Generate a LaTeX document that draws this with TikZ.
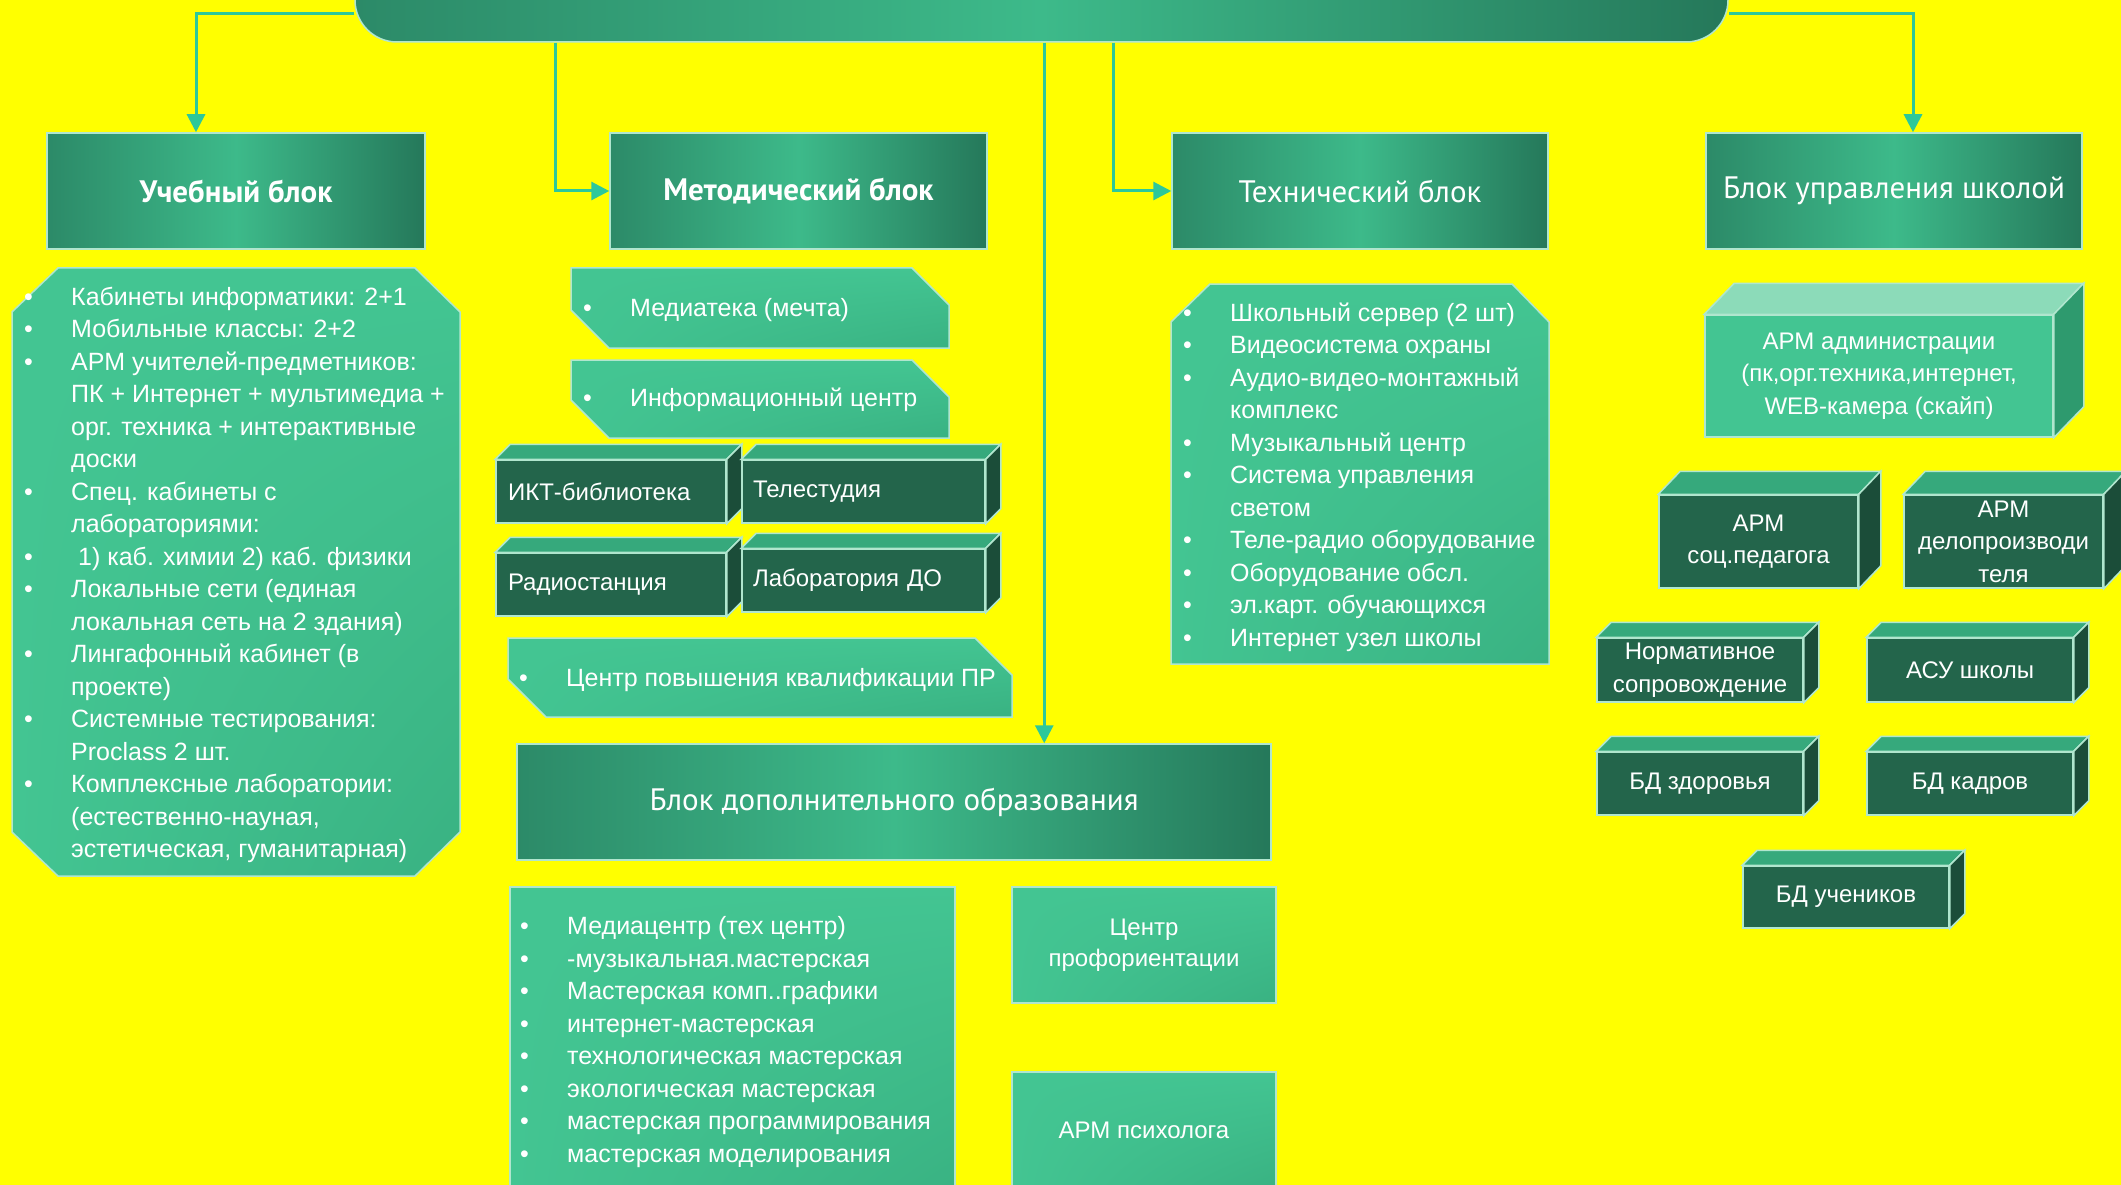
\documentclass[tikz,border=0pt]{standalone}
\usepackage{fontspec}
\setmainfont{PT Sans}
\newfontfamily\lstfont{Liberation Sans}
\usepackage{tikz}
\usetikzlibrary{arrows.meta,shadings}

\definecolor{bg}{RGB}{255,255,0}
\definecolor{lnk}{RGB}{45,200,154}
\definecolor{hdark}{RGB}{44,138,104}
\definecolor{hlight}{RGB}{61,186,138}
\definecolor{hend}{RGB}{37,120,90}
\definecolor{lbox}{RGB}{67,197,146}
\definecolor{lboxd}{RGB}{57,178,130}
\definecolor{rim}{RGB}{176,230,206}
\definecolor{dfront}{RGB}{35,101,75}
\definecolor{dtop}{RGB}{54,169,124}
\definecolor{dside}{RGB}{27,77,57}
\definecolor{ltop}{RGB}{140,219,185}
\definecolor{lside}{RGB}{46,154,110}

\newcommand{\bul}{\makebox[47pt][l]{\textbullet}}
\newcommand{\gap}{\hspace*{47pt}}

\begin{document}
\begin{tikzpicture}[x=1pt,y=-1pt,
    hdr/.style={draw=rim,line width=1.5pt,left color=hdark,right color=hend,middle color=hlight,
      minimum width=376pt,minimum height=116pt,text=white,font=\fontsize{31}{36}\selectfont},
    panel/.style={draw=rim,line width=1.5pt,upper left=lbox,upper right=lbox,lower left=lbox,lower right=lboxd},
    lst/.style={text=white,align=left,inner sep=0pt,anchor=west,font=\lstfont\fontsize{25}{32.5}\selectfont},
    dcube/.style={draw=rim,line width=1.5pt,fill=dfront,text=white,inner sep=0pt,font=\lstfont\fontsize{24}{32.5}\selectfont},
    dtopf/.style={draw=rim,line width=1.5pt,fill=dtop},
    dsidef/.style={draw=rim,line width=1.5pt,fill=dside},
    link/.style={draw=lnk,line width=3pt,-{Triangle[length=18pt,width=18pt]}}]
    \useasboundingbox (0,0) rectangle (2121,1185);
    \fill[bg] (0,0) rectangle (2121,1185);

    % top banner and the four blocks
    \node[hdr,minimum width=1373pt,minimum height=84pt,rounded corners=42pt] (top) at (1041.5,0) {};
    \node[hdr,minimum width=378pt,font=\fontsize{31}{36}\selectfont\bfseries] (ucheb) at (236,191) {Учебный блок};
    \node[hdr,minimum width=377pt,font=\fontsize{31}{36}\selectfont\bfseries] (metod) at (798.5,191) {Методический блок};
    \node[hdr] (tech) at (1360,191) {Технический блок};
    \node[hdr] (upr) at (1894,191) {Блок управления школой};
    \node[hdr,minimum width=754pt] (dop) at (894,802) {Блок дополнительного образования};

    \coordinate (c3) at ([xshift=690pt]top.south west);
    \draw[link] ([yshift=-14pt]top.west) -| ([xshift=-40pt]ucheb.north);
    \draw[link] ([xshift=201pt]top.south west) |- (metod.west);
    \draw[link] (c3) -- (c3 |- dop.north);
    \draw[link] ([xshift=759pt]top.south west) |- (tech.west);
    \draw[link] ([yshift=-14pt]top.east) -| ([xshift=19pt]upr.north);

    % Учебный блок
    \filldraw[panel] (12,312) -- (58,268) -- (415,268) -- (460,312) -- (460,832) -- (415,876) -- (58,876) -- (12,832) -- cycle;
    \node[lst] (l1) at (24,575) {\bul Кабинеты информатики: 2+1\\
      \bul Мобильные классы: 2+2\\
      \bul АРМ учителей-предметников:\\
      \gap ПК + Интернет + мультимедиа +\\
      \gap орг. техника + интерактивные\\
      \gap доски\\
      \bul Спец. кабинеты с\\
      \gap лабораториями:\\
      \bul\ 1) каб. химии 2) каб. физики\\
      \bul Локальные сети (единая\\
      \gap локальная сеть на 2 здания)\\
      \bul Лингафонный кабинет (в\\
      \gap проекте)\\
      \bul Системные тестирования:\\
      \gap Proclass 2 шт.\\
      \bul Комплексные лаборатории:\\
      \gap (естественно-науная,\\
      \gap эстетическая, гуманитарная)};

    % Методический блок
    \filldraw[panel] (571,268) -- (912,268) -- (949,305) -- (949,348) -- (609,348) -- (571,310) -- cycle;
    \node[lst] (m1) at (583,310) {\bul Медиатека (мечта)};
    \filldraw[panel] (571,360) -- (912,360) -- (949,397) -- (949,438) -- (609,438) -- (571,400) -- cycle;
    \node[lst] (m2) at (583,400) {\bul Информационный центр};
    \node[dcube,text width=206pt,inner xsep=12pt,minimum height=63pt,align=left] (ikt) at (611,491.5) {ИКТ-библиотека};
    \filldraw[dtopf] (ikt.north west) -- ++(15,-15) -- ([shift={(15,-15)}]ikt.north east) -- (ikt.north east) -- cycle;
    \filldraw[dsidef] (ikt.north east) -- ++(15,-15) -- ([shift={(15,-15)}]ikt.south east) -- (ikt.south east) -- cycle;
    \node[dcube,text width=221pt,inner xsep=11pt,minimum height=63pt,align=left] (tele) at (863.5,491.5) {Телестудия};
    \filldraw[dtopf] (tele.north west) -- ++(15,-15) -- ([shift={(15,-15)}]tele.north east) -- (tele.north east) -- cycle;
    \filldraw[dsidef] (tele.north east) -- ++(15,-15) -- ([shift={(15,-15)}]tele.south east) -- (tele.south east) -- cycle;
    \node[dcube,text width=206pt,inner xsep=12pt,minimum height=63pt,align=left] (radio) at (611,584.5) {Радиостанция};
    \filldraw[dtopf] (radio.north west) -- ++(15,-15) -- ([shift={(15,-15)}]radio.north east) -- (radio.north east) -- cycle;
    \filldraw[dsidef] (radio.north east) -- ++(15,-15) -- ([shift={(15,-15)}]radio.south east) -- (radio.south east) -- cycle;
    \node[dcube,text width=221pt,inner xsep=11pt,minimum height=63pt,align=left] (labdo) at (863.5,580.5) {Лаборатория ДО};
    \filldraw[dtopf] (labdo.north west) -- ++(15,-15) -- ([shift={(15,-15)}]labdo.north east) -- (labdo.north east) -- cycle;
    \filldraw[dsidef] (labdo.north east) -- ++(15,-15) -- ([shift={(15,-15)}]labdo.south east) -- (labdo.south east) -- cycle;
    \filldraw[panel] (508,638) -- (975,638) -- (1012,675) -- (1012,717) -- (546,717) -- (508,679) -- cycle;
    \node[lst] (m3) at (519,680) {\bul Центр повышения квалификации ПР};

    % Технический блок
    \filldraw[panel] (1171,322) -- (1210,284) -- (1512,284) -- (1549,322) -- (1549,664) -- (1171,664) -- cycle;
    \node[lst] (t1) at (1183,477) {\bul Школьный сервер (2 шт)\\
      \bul Видеосистема охраны\\
      \bul Аудио-видео-монтажный\\
      \gap комплекс\\
      \bul Музыкальный центр\\
      \bul Система управления\\
      \gap светом\\
      \bul Теле-радио оборудование\\
      \bul Оборудование обсл.\\
      \bul эл.карт. обучающихся\\
      \bul Интернет узел школы};

    % Блок дополнительного образования
    \filldraw[panel] (510,887) rectangle (955,1200);
    \node[lst] (d1) at (520,1042) {\bul Медиацентр (тех центр)\\
      \bul -музыкальная.мастерская\\
      \bul Мастерская комп..графики\\
      \bul интернет-мастерская\\
      \bul технологическая мастерская\\
      \bul экологическая мастерская\\
      \bul мастерская программирования\\
      \bul мастерская моделирования};
    \node[panel,minimum width=264pt,minimum height=116pt,text=white,align=center,font=\lstfont\fontsize{24}{31}\selectfont] (prof) at (1144,945) {Центр\\профориентации};
    \node[panel,minimum width=264pt,minimum height=116pt,text=white,font=\lstfont\fontsize{24}{31}\selectfont] (psih) at (1144,1130) {АРМ психолога};

    % Блок управления школой
    \node[dcube,fill=lbox,minimum width=348pt,minimum height=122pt,align=center] (adm) at (1879,376) {АРМ администрации\\(пк,орг.техника,интернет,\\WEB-камера (скайп)};
    \filldraw[dtopf,fill=ltop] (adm.north west) -- ++(30,-31) -- ([shift={(30,-31)}]adm.north east) -- (adm.north east) -- cycle;
    \filldraw[dsidef,fill=lside] (adm.north east) -- ++(30,-31) -- ([shift={(30,-31)}]adm.south east) -- (adm.south east) -- cycle;
    \node[dcube,minimum width=199pt,minimum height=93pt,align=center] (soc) at (1758.5,541.5) {АРМ\\соц.педагога};
    \filldraw[dtopf] (soc.north west) -- ++(22,-23) -- ([shift={(22,-23)}]soc.north east) -- (soc.north east) -- cycle;
    \filldraw[dsidef] (soc.north east) -- ++(22,-23) -- ([shift={(22,-23)}]soc.south east) -- (soc.south east) -- cycle;
    \node[dcube,minimum width=199pt,minimum height=93pt,align=center] (delo) at (2003.5,541.5) {АРМ\\делопроизводи\\теля};
    \filldraw[dtopf] (delo.north west) -- ++(22,-23) -- ([shift={(22,-23)}]delo.north east) -- (delo.north east) -- cycle;
    \filldraw[dsidef] (delo.north east) -- ++(22,-23) -- ([shift={(22,-23)}]delo.south east) -- (delo.south east) -- cycle;
    \node[dcube,minimum width=206pt,minimum height=64pt,align=center] (norm) at (1700,670) {Нормативное\\сопровождение};
    \filldraw[dtopf] (norm.north west) -- ++(15,-15) -- ([shift={(15,-15)}]norm.north east) -- (norm.north east) -- cycle;
    \filldraw[dsidef] (norm.north east) -- ++(15,-15) -- ([shift={(15,-15)}]norm.south east) -- (norm.south east) -- cycle;
    \node[dcube,minimum width=206pt,minimum height=64pt] (asu) at (1970,670) {АСУ школы};
    \filldraw[dtopf] (asu.north west) -- ++(15,-15) -- ([shift={(15,-15)}]asu.north east) -- (asu.north east) -- cycle;
    \filldraw[dsidef] (asu.north east) -- ++(15,-15) -- ([shift={(15,-15)}]asu.south east) -- (asu.south east) -- cycle;
    \node[dcube,minimum width=206pt,minimum height=63pt] (bdz) at (1700,783.5) {БД здоровья};
    \filldraw[dtopf] (bdz.north west) -- ++(15,-15) -- ([shift={(15,-15)}]bdz.north east) -- (bdz.north east) -- cycle;
    \filldraw[dsidef] (bdz.north east) -- ++(15,-15) -- ([shift={(15,-15)}]bdz.south east) -- (bdz.south east) -- cycle;
    \node[dcube,minimum width=206pt,minimum height=63pt] (bdk) at (1970,783.5) {БД кадров};
    \filldraw[dtopf] (bdk.north west) -- ++(15,-15) -- ([shift={(15,-15)}]bdk.north east) -- (bdk.north east) -- cycle;
    \filldraw[dsidef] (bdk.north east) -- ++(15,-15) -- ([shift={(15,-15)}]bdk.south east) -- (bdk.south east) -- cycle;
    \node[dcube,minimum width=206pt,minimum height=62pt] (bdu) at (1846,897) {БД учеников};
    \filldraw[dtopf] (bdu.north west) -- ++(15,-15) -- ([shift={(15,-15)}]bdu.north east) -- (bdu.north east) -- cycle;
    \filldraw[dsidef] (bdu.north east) -- ++(15,-15) -- ([shift={(15,-15)}]bdu.south east) -- (bdu.south east) -- cycle;
\end{tikzpicture}
\end{document}
